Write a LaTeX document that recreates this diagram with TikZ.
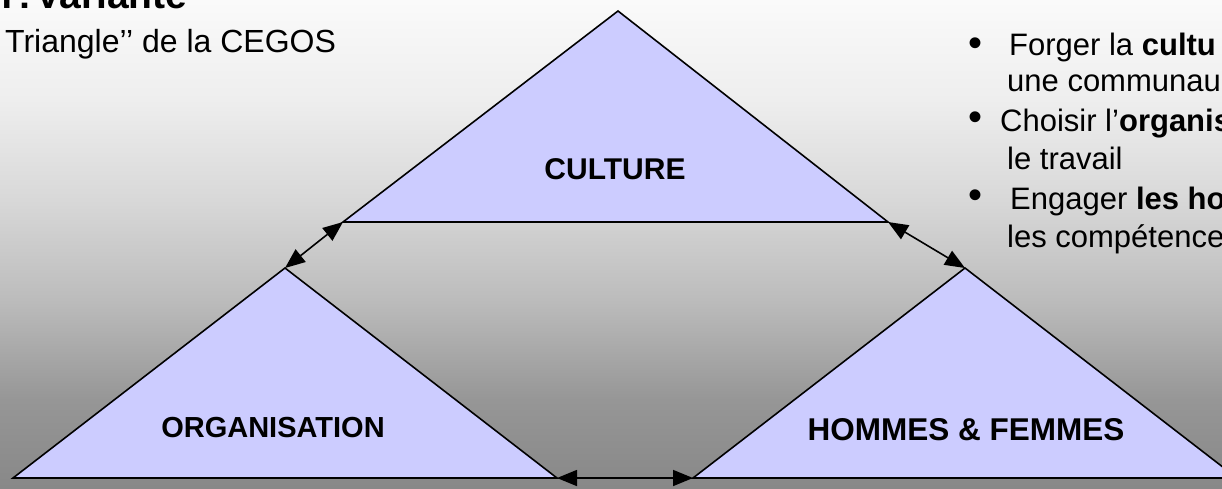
\documentclass[tikz,border=0pt]{standalone}
\usepackage{fontspec}
\setmainfont{Liberation Sans}
\usetikzlibrary{arrows.meta}
\definecolor{lav}{RGB}{204,204,255}
\definecolor{gA}{RGB}{136,136,136}
\definecolor{gB}{RGB}{150,150,150}
\definecolor{gC}{RGB}{188,188,188}
\definecolor{gD}{RGB}{216,216,216}
\definecolor{gE}{RGB}{238,238,238}
\definecolor{gF}{RGB}{250,250,250}
\pgfdeclareverticalshading{bgshade}{100bp}{color(0bp)=(gA); color(25bp)=(gA); color(34bp)=(gB); color(44.3bp)=(gC); color(54.5bp)=(gD); color(64.8bp)=(gE); color(75bp)=(gF); color(100bp)=(gF)}
\tikzset{
  tri/.style={draw=black, fill=lav, line width=1.6pt, line join=miter},
  link/.style={line width=1.6pt, {Triangle[length=20pt,width=16pt]}-{Triangle[length=20pt,width=16pt]}},
  lbl/.style={font=\bfseries\fontsize{30}{36}\selectfont, inner sep=0pt},
  txt/.style={font=\fontsize{31}{36}\selectfont, inner sep=0pt, anchor=base west},
  bul/.style={font=\fontsize{40}{44}\selectfont, inner sep=0pt}
}
\begin{document}
\begin{tikzpicture}[x=1pt,y=-1pt]
\useasboundingbox (0,0) rectangle (1222,488);
\clip (0,0) rectangle (1222,488);
\shade[shading=bgshade] (0,0) rectangle (1222,488);
% coordinates
\coordinate (tA) at (618,11);
\coordinate (tL) at (343,222);
\coordinate (tR) at (888,222);
\coordinate (lA) at (285,268);
\coordinate (lL) at (13,478);
\coordinate (lR) at (557,478);
\coordinate (rA) at (965,268);
\coordinate (rL) at (693,478);
\coordinate (rR) at (1237,478);
% triangles
\draw[tri] (tA) -- (tR) -- (tL) -- cycle;
\draw[tri] (lA) -- (lR) -- (lL) -- cycle;
\draw[tri] (rA) -- (rR) -- (rL) -- cycle;
% links
\draw[link] (tL) -- (lA);
\draw[link] (tR) -- (rA);
\draw[link] (lR) -- (rL);
% labels
\node[lbl, anchor=base] (culture) at (615,179) {CULTURE};
\node[lbl, anchor=base, font=\bfseries\fontsize{29}{34}\selectfont] (orga) at (273,437) {ORGANISATION};
\node[lbl, anchor=base, font=\bfseries\fontsize{31.5}{36}\selectfont] (hf) at (966,440) {HOMMES \& FEMMES};
% title texts
\node[inner sep=0pt, anchor=base west, font=\bfseries\fontsize{39}{44}\selectfont] (title) at (-12,8) {n\,:\hspace{4pt}Variante};
\node[inner sep=0pt, anchor=base west, font=\fontsize{32}{38}\selectfont] (sub) at (5,52) {Triangle’’ de la CEGOS};
% bullets
\node[bul] (b1) at (975,47) {•};
\node[txt] (t1) at (1009,55) {Forger la \textbf{cultu}};
\node[txt] (t2) at (1007,91) {une communau};
\node[bul] (b2) at (975,121) {•};
\node[txt] (t3) at (1000,131) {Choisir l’\textbf{organis}};
\node[txt] (t4) at (1007,169) {le travail};
\node[bul] (b3) at (975,199) {•};
\node[txt] (t5) at (1010,209) {Engager \textbf{les ho}};
\node[txt] (t6) at (1007,247) {les compétence};
\end{tikzpicture}
\end{document}
